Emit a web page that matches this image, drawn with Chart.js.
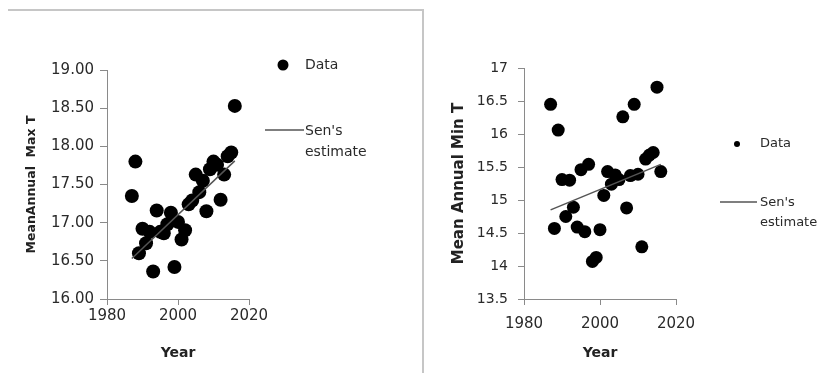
<!DOCTYPE html>
<html>
<head>
<meta charset="utf-8">
<script src="https://cdn.jsdelivr.net/npm/chart.js@4.4.1/dist/chart.umd.min.js"></script>
<style>
  html, body { margin: 0; padding: 0; background: #fff; }
  #wrap { position: relative; width: 829px; height: 373px; overflow: hidden; }
  #frame { position: absolute; left: 8px; top: 9px; width: 416px; height: 400px;
           border-top: 2px solid #c6c6c6; border-right: 2px solid #c6c6c6; box-sizing: border-box; }
  canvas { position: absolute; top: 0; }
  #maxChart { left: 0; }
  #minChart { left: 425px; }
</style>
</head>
<body>
<div id="wrap">
  <div id="frame"></div>
  <canvas id="maxChart" width="420" height="373"></canvas>
  <canvas id="minChart" width="404" height="373"></canvas>
</div>
<script>
// years of record
const years = [1987, 1988, 1989, 1990, 1991, 1992, 1993, 1994, 1995, 1996,
               1997, 1998, 1999, 2000, 2001, 2002, 2003, 2004, 2005, 2006,
               2007, 2008, 2009, 2010, 2011, 2012, 2013, 2014, 2015, 2016];

// mean annual max temperature
const maxT = [17.35, 17.80, 16.60, 16.92, 16.73, 16.88, 16.36, 17.16, 16.88, 16.86,
              16.98, 17.13, 16.42, 17.01, 16.78, 16.90, 17.24, 17.29, 17.63, 17.40,
              17.55, 17.15, 17.70, 17.80, 17.76, 17.30, 17.63, 17.87, 17.92, 18.53];

// mean annual min temperature
const minT = [16.45, 14.57, 16.06, 15.31, 14.75, 15.30, 14.89, 14.59, 15.46, 14.52,
              15.54, 14.07, 14.13, 14.55, 15.07, 15.43, 15.24, 15.38, 15.31, 16.26,
              14.88, 15.37, 16.45, 15.39, 14.29, 15.62, 15.68, 15.72, 16.71, 15.43];

// Sen's slope lines, start and end
const senYears = [1987, 2016];
const senMax = [16.53, 17.81];
const senMin = [14.85, 15.54];

const xTicks = [1980, 2000, 2020];

const FONT = "'DejaVu Sans', Verdana, sans-serif";
const AXIS_GREY = "#8a8a8a";
const TEXT = "#2a2a2a";

const sideLegend = {
    id: "sideLegend",
    afterDraw(chart, args, o) {
        const ctx = chart.ctx;
        const pts = chart.data.datasets[0];
        const line = chart.data.datasets[1];
        ctx.save();
        ctx.font = o.size + "px " + FONT;
        ctx.textBaseline = "middle";
        ctx.textAlign = "left";
        // dot
        ctx.beginPath();
        ctx.arc(o.dotX, o.dotY, o.dotR, 0, Math.PI * 2);
        ctx.fillStyle = pts.backgroundColor;
        ctx.fill();
        ctx.fillStyle = TEXT;
        ctx.fillText(pts.label, o.textX, o.dotY);
        // line
        ctx.beginPath();
        ctx.moveTo(o.lineX1, o.lineY);
        ctx.lineTo(o.lineX2, o.lineY);
        ctx.strokeStyle = line.borderColor;
        ctx.lineWidth = line.borderWidth;
        ctx.stroke();
        line.label.split(" ").forEach((w, i) => {
            ctx.fillText(w, o.textX, o.lineY + 1 + i * o.gap);
        });
        ctx.restore();
    },
};

function makeChart(id, vals, sen, cfg) {
    const ctx = document.getElementById(id).getContext("2d");
    return new Chart(ctx, {
        type: "scatter",
        data: {
            datasets: [
                {
                    label: "Data",
                    data: years.map((y, i) => ({ x: y, y: vals[i] })),
                    backgroundColor: "#000",
                    borderWidth: 0,
                    pointRadius: cfg.r,
                    order: 2,
                },
                {
                    type: "line",
                    label: "Sen's estimate",
                    data: senYears.map((y, i) => ({ x: y, y: sen[i] })),
                    borderColor: "#555",
                    borderWidth: 1.5,
                    pointRadius: 0,
                    fill: false,
                    order: 1,
                },
            ],
        },
        options: {
            responsive: false,
            animation: false,
            events: [],
            layout: { padding: { top: cfg.top, right: cfg.right, left: 0, bottom: 0 } },
            plugins: {
                legend: { display: false },
                tooltip: { enabled: false },
                sideLegend: cfg.legend,
            },
            scales: {
                x: {
                    type: "linear",
                    min: 1980,
                    max: 2020,
                    afterBuildTicks: (s) => { s.ticks = xTicks.map((v) => ({ value: v })); },
                    afterFit: (s) => { s.height = 74; },
                    grid: { drawOnChartArea: false, color: AXIS_GREY, tickLength: 6 },
                    border: { color: AXIS_GREY },
                    ticks: {
                        color: TEXT,
                        padding: cfg.xPad,
                        font: { family: FONT, size: 15 },
                        callback: (v) => String(v),
                    },
                    title: {
                        display: true,
                        text: "Year",
                        color: "#222",
                        font: { family: FONT, size: 14, weight: "bold" },
                        padding: { top: 0, bottom: 11 },
                    },
                },
                y: {
                    min: cfg.yMin,
                    max: cfg.yMax,
                    afterFit: (s) => { s.width = cfg.yWidth; },
                    grid: { drawOnChartArea: false, color: AXIS_GREY, tickLength: cfg.yTick },
                    border: { color: AXIS_GREY },
                    ticks: {
                        stepSize: 0.5,
                        color: TEXT,
                        padding: cfg.yPad,
                        font: { family: FONT, size: cfg.yFont },
                        callback: cfg.yFmt,
                    },
                    title: {
                        display: true,
                        text: cfg.yTitle,
                        color: "#222",
                        font: { family: FONT, size: cfg.yTitleSize, weight: "bold" },
                        padding: { top: cfg.yTitlePad, bottom: 0 },
                    },
                },
            },
        },
        plugins: [sideLegend],
    });
}

makeChart("maxChart", maxT, senMax, {
    r: 7, top: 70, right: 171, yWidth: 107,
    yMin: 16, yMax: 19, yFmt: (v) => v.toFixed(2), yFont: 15, yTick: 7, yPad: 6,
    yTitle: "MeanAnnual  Max T", yTitleSize: 12.5, yTitlePad: 24,
    xPad: 2,
    legend: { size: 14, dotX: 283, dotY: 65, dotR: 5.5, textX: 305,
              lineX1: 265, lineX2: 304, lineY: 130, gap: 21 },
});

makeChart("minChart", minT, senMin, {
    r: 6.5, top: 68, right: 153, yWidth: 99,
    yMin: 13.5, yMax: 17, yFmt: (v) => String(v), yFont: 14, yTick: 6, yPad: 10,
    yTitle: "Mean Annual Min T", yTitleSize: 15, yTitlePad: 25,
    xPad: 10,
    legend: { size: 13, dotX: 312, dotY: 144, dotR: 3, textX: 335,
              lineX1: 295, lineX2: 332, lineY: 202, gap: 20 },
});
</script>
</body>
</html>
